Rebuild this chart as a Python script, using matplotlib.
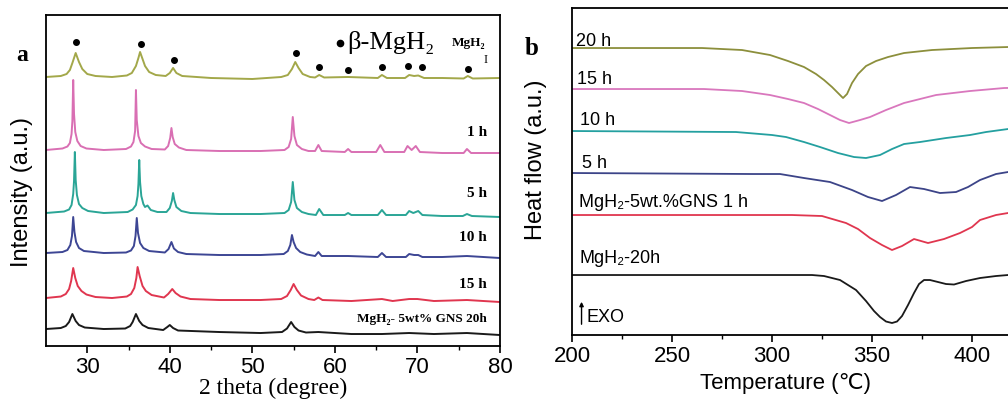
import matplotlib
matplotlib.use("Agg")
import matplotlib.pyplot as plt

SANS = ['Liberation Sans', 'DejaVu Sans', 'Noto Sans CJK SC']
SERIF = ['Liberation Serif', 'DejaVu Serif']

# ---------------- Panel a: XRD (2theta, intensity a.u. incl. offset) ----------------
xrd_mgh2 = [(25, 269), (26.8, 270), (27.5, 272), (27.9, 276), (28.2, 283), (28.6, 293), (29.0, 284),
            (29.4, 277), (30.0, 272), (31, 270), (33, 269), (34.8, 270.5), (35.4, 273), (35.9, 280),
            (36.2, 288), (36.4, 294), (36.7, 287), (37.0, 280), (37.5, 274), (38.3, 271),
            (39.5, 270), (40.0, 273), (40.4, 278), (40.8, 273), (41.5, 270), (45, 268), (50, 267),
            (53.5, 269), (54.3, 271), (54.8, 277), (55.2, 284), (55.6, 278), (56.1, 272), (57.0, 269),
            (57.6, 268.5), (58.1, 271), (58.7, 268.5), (61.6, 269), (65.2, 268), (65.7, 271),
            (66.3, 268), (68.5, 268), (69.0, 271), (69.6, 270), (70.1, 270.5), (70.8, 268), (73, 268),
            (75.6, 267.5), (76.1, 270), (76.7, 267.5), (80, 268)]
xrd_1h = [(25, 196), (27.0, 197.5), (27.6, 199.5), (27.9, 203), (28.1, 212), (28.2, 225), (28.3, 266),
          (28.4, 232), (28.55, 214), (28.8, 205), (29.2, 200), (29.9, 197.5), (32, 196), (34.7, 197),
          (35.3, 199.5), (35.6, 204), (35.8, 215), (35.9, 256), (36.0, 226), (36.2, 210), (36.5, 203),
          (37.0, 199.5), (37.8, 197), (39.4, 196.5), (39.8, 200), (40.05, 208), (40.2, 218),
          (40.35, 209), (40.6, 202), (41.1, 198.5), (42, 196), (46, 195), (51, 195), (53.9, 196),
          (54.4, 199), (54.7, 207), (54.9, 229), (55.1, 210), (55.4, 201), (56.0, 197), (56.8, 195),
          (57.6, 195), (58.0, 201), (58.4, 195), (61.2, 194), (61.6, 197), (62.0, 194), (65.0, 194),
          (65.5, 201), (66.0, 194), (68.4, 194), (68.8, 200), (69.3, 196), (69.8, 200), (70.3, 194),
          (73, 193), (75.6, 193), (76.0, 197), (76.5, 193), (80, 193)]
xrd_5h = [(25, 133), (27.2, 134.5), (27.8, 136.5), (28.1, 141), (28.3, 152), (28.4, 165), (28.5, 194),
          (28.6, 166), (28.75, 151), (29.0, 142), (29.4, 138), (30.1, 135), (32, 133), (34.9, 134),
          (35.5, 136.5), (35.9, 141), (36.1, 150), (36.2, 162), (36.3, 186), (36.4, 164), (36.55, 150),
          (36.8, 142), (37.0, 139), (37.3, 140.5), (37.7, 136), (38.5, 134), (39.6, 134),
          (40.0, 138), (40.25, 145), (40.4, 153), (40.55, 146), (40.8, 139), (41.4, 135), (42.5, 133),
          (46, 132), (51, 132), (53.9, 133), (54.4, 136), (54.7, 144), (54.9, 164), (55.1, 146),
          (55.4, 138), (56.0, 134), (56.8, 132), (57.7, 131), (58.1, 137), (58.6, 131), (61.2, 131),
          (61.6, 133), (62.0, 131), (65.2, 131), (65.7, 136), (66.2, 131), (68.6, 131), (69.0, 135),
          (69.5, 133), (70.1, 135), (70.6, 131), (73, 130), (75.5, 130), (76.0, 132), (76.6, 130),
          (80, 129)]
xrd_10h = [(25, 93), (27.0, 94), (27.6, 96), (27.95, 101), (28.15, 110), (28.3, 129), (28.45, 114),
           (28.65, 104), (29.0, 98), (29.6, 95), (32, 93), (34.7, 93.5), (35.3, 95.5), (35.65, 100),
           (35.85, 110), (36.0, 128), (36.15, 113), (36.4, 103), (36.8, 98), (37.5, 95), (39.4, 93.5),
           (39.85, 97), (40.2, 104), (40.5, 97.5), (41.0, 94), (42, 92), (46, 91), (51, 91),
           (53.8, 92), (54.3, 95), (54.6, 101), (54.8, 111), (55.0, 104), (55.3, 98), (55.8, 94),
           (56.6, 91.5), (57.6, 90), (58.0, 94), (58.4, 90), (61.6, 90), (65.2, 89), (65.7, 93),
           (66.2, 89), (68.6, 89), (69.0, 92), (69.6, 91), (70.1, 91), (70.6, 89), (73, 89), (76.0, 90),
           (80, 88)]
xrd_15h = [(25, 48), (26.8, 49.5), (27.4, 52), (27.8, 57), (28.05, 65), (28.3, 78), (28.55, 68),
           (28.85, 60), (29.3, 55), (29.9, 51.5), (31, 49), (33, 48), (34.8, 49.5), (35.3, 52),
           (35.7, 58), (35.95, 68), (36.1, 79), (36.35, 70), (36.7, 60), (37.1, 55), (37.8, 51),
           (39.3, 48.5), (39.8, 52), (40.3, 57), (40.7, 53), (41.3, 49.5), (42.5, 47), (46, 46),
           (51, 46), (53.5, 47), (54.2, 50), (54.65, 56), (55.0, 62), (55.4, 56), (55.9, 50.5),
           (56.8, 47), (57.5, 46), (58.0, 48.5), (58.5, 46), (62, 45), (65.7, 47), (67, 45),
           (69.0, 47), (70, 47), (72, 45), (76, 46), (80, 44)]
xrd_gns20h = [(25, 17), (26.8, 18), (27.4, 20), (27.8, 24), (28.2, 32), (28.6, 25), (29.0, 21),
              (29.7, 18.5), (32, 17), (34.6, 17.5), (35.2, 20), (35.5, 24), (35.9, 32), (36.3, 25),
              (36.7, 21), (37.4, 18), (39.2, 16), (39.7, 19), (40.0, 21), (40.4, 18), (41.0, 15.5),
              (46, 14), (51, 13), (53.6, 14), (54.2, 17.5), (54.7, 24), (55.1, 19), (55.6, 15.5),
              (56.5, 13.5), (58, 14), (62, 12), (65.7, 12), (69, 13), (72, 12), (76, 13), (80, 11)]

xrd_series = [xrd_mgh2, xrd_1h, xrd_5h, xrd_10h, xrd_15h, xrd_gns20h]
xrd_colors = ['#a3a84a', '#d96fb3', '#2aa596', '#3d4694', '#e0364f', '#1a1a1a']
xrd_labels = ['1 h', '5 h', '10 h', '15 h', 'MgH\u2082- 5wt% GNS 20h']
xrd_label_y = [214, 153, 109, 62, 27]

beta_x = [28.6, 36.5, 40.5, 55.3, 58.1, 61.6, 65.7, 68.8, 70.6, 76.1]
beta_y = [304, 302, 286, 293, 279, 276, 279, 280, 279, 277]

# ---------------- Panel b: DSC (temperature, heat flow a.u. incl. offset) ----------------
dsc_20h = [(200, 287), (265, 287), (285, 285), (299, 280), (308, 274), (316, 268), (322, 261),
           (326, 255), (330, 248), (333, 242), (335.5, 237), (337.5, 241), (340, 252), (343, 261),
           (347, 269), (352, 274), (358, 278), (366, 282), (380, 285), (400, 287), (418, 288),
           (450, 288)]
dsc_15h = [(200, 246), (266, 246), (285, 244), (299, 240), (308, 236), (316, 232), (323, 226),
           (329, 220), (334, 215), (338.5, 212), (344, 215), (349, 218), (357, 225), (366, 232),
           (382, 240), (399, 244), (416, 247), (450, 248)]
dsc_10h = [(200, 204), (282, 203), (300, 200), (307, 198), (316, 193), (324, 188), (333, 182),
           (341, 178), (347, 177), (354, 180), (360, 186), (366, 191), (374, 193), (387, 197),
           (399, 200), (407, 203), (418, 206), (450, 207)]
dsc_5h = [(200, 162), (290, 161), (304, 161), (316, 157), (329, 153), (340, 145), (348, 138),
          (355, 134), (362, 140), (369, 148), (376, 146), (384, 142), (392, 143), (398, 148),
          (404, 155), (412, 161), (418, 163), (450, 165)]
dsc_gns1h = [(200, 120), (310, 120), (325, 119), (337, 112), (343, 106), (349, 97), (355, 90),
             (360, 85), (365, 89), (371, 96), (378, 92), (386, 96), (394, 102), (400, 108),
             (404, 115), (412, 120), (418, 122), (450, 123)]
dsc_mgh2_20h = [(200, 60), (320, 60), (326, 59), (334, 55), (342, 45), (347, 34), (351, 24),
                (354, 18), (357, 13.5), (360, 12), (362.5, 13.5), (365, 19), (368, 30), (371, 42),
                (373.5, 51), (376, 55), (379, 55), (383, 53), (387, 51), (391, 50.5), (397, 54),
                (404, 57), (412, 59), (418, 60), (450, 60)]

dsc_series = [dsc_20h, dsc_15h, dsc_10h, dsc_5h, dsc_gns1h, dsc_mgh2_20h]
dsc_colors = ['#8c8f3c', '#d977bd', '#24a0a0', '#3c4488', '#e0364f', '#1a1a1a']
dsc_labels = ['20 h', '15 h', '10 h', '5 h', 'MgH\u2082-5wt.%GNS 1 h', 'MgH\u2082-20h']
dsc_label_pos = [(202, 289), (202.7, 251), (204, 210), (205, 167), (203.7, 128), (203.7, 72)]

# ---------------- Figure ----------------
fig = plt.figure(figsize=(10.08, 4.03), dpi=100)
axa = fig.add_axes([0.0456, 0.1414, 0.4504, 0.8214])
axb = fig.add_axes([0.5675, 0.1687, 0.496, 0.8114])

for s, c in zip(xrd_series, xrd_colors):
    axa.plot([p[0] for p in s], [p[1] for p in s], color=c, lw=1.4)
axa.plot(beta_x, beta_y, 'o', color='black', ms=4, ls='none')
axa.set_xlim(25, 80)
axa.set_ylim(0, 331)
axa.set_yticks([])
axa.set_xticks([30, 40, 50, 60, 70, 80])
axa.set_xticks([35, 45, 55, 65, 75], minor=True)
for lab, y in zip(xrd_labels, xrd_label_y):
    axa.text(78.4, y, lab, ha='right', va='center', family=SERIF, fontweight='bold',
             fontsize=11 if 'GNS' not in lab else 9.5)
axa.plot([60.6], [303], 'o', color='black', ms=4.5)
axa.text(61.5, 303, '\u03b2-MgH\u2082', ha='left', va='center', family=SERIF, fontsize=19)
axa.text(74.1, 303, 'MgH\u2082', ha='left', va='center', family=SERIF, fontweight='bold', fontsize=9.5)
axa.text(78.2, 286, 'I', ha='center', va='center', family=SERIF, fontsize=9)
axa.set_xlabel('2 theta (degree)', family=SERIF, fontsize=17, labelpad=0)
axa.set_ylabel('Intensity (a.u.)', family=SANS, fontsize=17, labelpad=4)
axa.yaxis.set_label_coords(-0.028, 0.465)
fig.text(0.022, 0.862, 'a', family=SERIF, fontweight='bold', fontsize=17, ha='center', va='center')

for s, c in zip(dsc_series, dsc_colors):
    axb.plot([p[0] for p in s], [p[1] for p in s], color=c, lw=1.3)
axb.set_xlim(200, 450)
axb.set_ylim(0, 327)
axb.set_yticks([])
axb.set_xticks([200, 250, 300, 350, 400])
axb.set_xticks([225, 275, 325, 375, 425], minor=True)
for lab, (x, y) in zip(dsc_labels, dsc_label_pos):
    axb.text(x, y, lab, ha='left', va='baseline', family=SANS, fontsize=13)
axb.annotate('', xy=(204.75, 36), xytext=(204.75, 8),
             arrowprops=dict(arrowstyle='-|>', color='black', lw=1.0, mutation_scale=6))
axb.text(207, 13, 'EXO', ha='left', va='baseline', family=SANS, fontsize=13)
axb.set_xlabel('Temperature (\u2103)', family=SANS, fontsize=16, labelpad=0)
axb.xaxis.set_label_coords(0.426, -0.115)
axb.set_ylabel('Heat flow (a.u.)', family=SANS, fontsize=17, labelpad=4)
axb.yaxis.set_label_coords(-0.05, 0.535)
fig.text(0.527, 0.88, 'b', family=SERIF, fontweight='bold', fontsize=18, ha='center', va='center')

for ax in (axa, axb):
    for sp in ax.spines.values():
        sp.set_linewidth(1.3)
    ax.tick_params(axis='x', which='major', direction='out', length=5, width=1.2,
                   labelsize=16, pad=3)
    ax.tick_params(axis='x', which='minor', direction='out', length=3, width=1.0)
    for t in ax.get_xticklabels():
        t.set_family(SANS)

fig.savefig('out.png', dpi=100)
